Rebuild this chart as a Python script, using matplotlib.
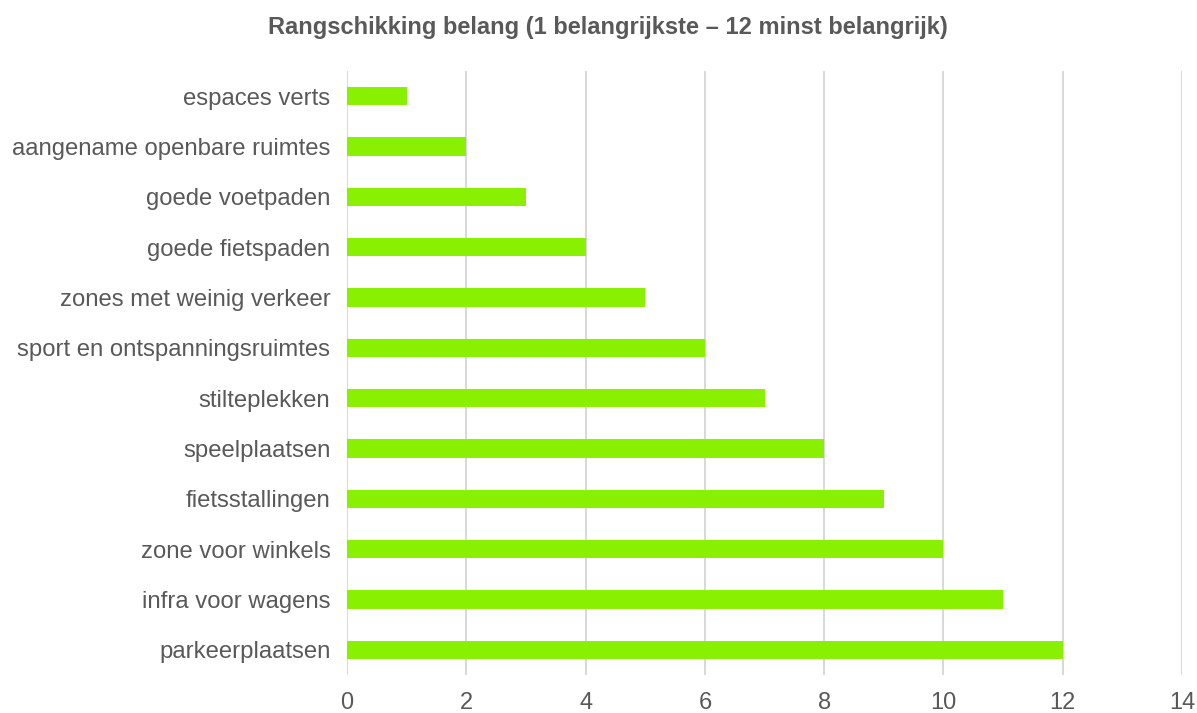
import matplotlib
matplotlib.use('Agg')
import matplotlib.pyplot as plt

# categories (top to bottom) and their rank
categorieen = ['espaces verts', 'aangename openbare ruimtes', 'goede voetpaden',
               'goede fietspaden', 'zones met weinig verkeer',
               'sport en ontspanningsruimtes', 'stilteplekken', 'speelplaatsen',
               'fietsstallingen', 'zone voor winkels', 'infra voor wagens',
               'parkeerplaatsen']
rang = [1, 2, 3, 4, 5, 6, 7, 8, 9, 10, 11, 12]
x_ticks = [0, 2, 4, 6, 8, 10, 12, 14]

plt.rcParams['font.family'] = ['Liberation Sans', 'DejaVu Sans']
tekst_kleur = '#595959'

fig = plt.figure(figsize=(11.97, 7.13), dpi=100)
ax = fig.add_axes([0.290, 0.0533, 0.6975, 0.8471])

posities = list(range(len(categorieen)))
ax.barh(posities, rang, height=0.36, color='#88f000', zorder=3)

ax.set_ylim(len(categorieen) - 0.5, -0.5)
ax.set_xlim(0, 14)
ax.set_yticks(posities)
ax.set_yticklabels(categorieen)
ax.set_xticks(x_ticks)
ax.set_xticklabels([str(t) for t in x_ticks])

ax.tick_params(axis='y', length=0, pad=12, labelsize=17.2, labelcolor=tekst_kleur)
ax.tick_params(axis='x', length=0, pad=12, labelsize=17, labelcolor=tekst_kleur)

ax.grid(axis='x', color='#d9d9d9', linewidth=1.5, zorder=0)
for s in ax.spines.values():
    s.set_visible(False)

fig.text(0.5075, 0.962, 'Rangschikking belang (1 belangrijkste \u2013 12 minst belangrijk)',
         ha='center', va='center', fontsize=17, fontweight='bold', color=tekst_kleur)

fig.savefig('out.png', dpi=100)
